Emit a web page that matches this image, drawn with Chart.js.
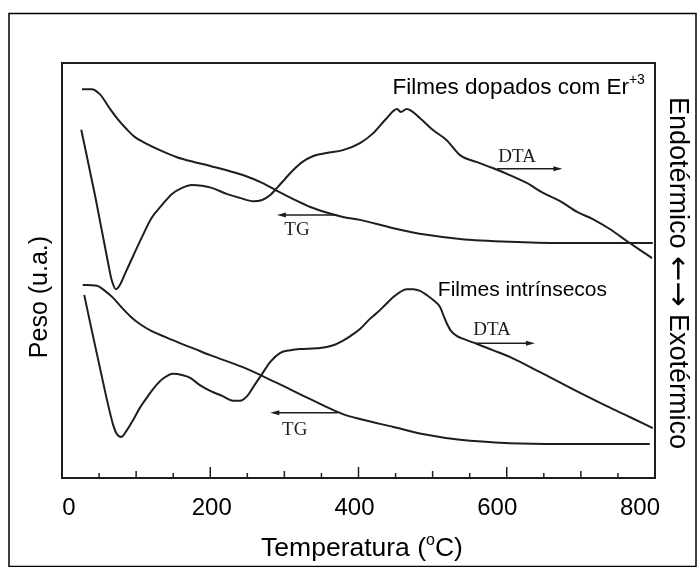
<!DOCTYPE html>
<html>
<head>
<meta charset="utf-8">
<script src="https://cdn.jsdelivr.net/npm/chart.js@4.4.0/dist/chart.umd.min.js"></script>
<style>
  html, body { margin: 0; padding: 0; background: #fff; }
  #wrap { width: 698px; height: 567px; }
</style>
</head>
<body>
<div id="wrap"><canvas id="c" width="698" height="567"></canvas></div>
<script>
// Temperature (°C) and signal (arbitrary units) for each thermal curve
const tgDopedT = [27,40,51,65,76,88,98,109,132,155,179,200,244,270,290,312,335,358,379,402,447,492,537,604,672,739,797];
const tgDopedV = [93.7,93.7,92.5,88.9,86.3,83.9,82.2,81.0,79.0,77.3,76.1,75.2,73.0,71.1,69.2,67.2,65.3,63.9,62.9,62.2,60.2,58.6,57.6,56.9,56.6,56.6,56.6];

const dtaDopedT = [26,45,62,67,73,78,86,96,108,121,135,148,162,175,189,202,223,240,258,270,281,291,302,312,324,339,357,379,402,420,438,452,457,465,483,500,519,537,560,581,604,627,649,672,695,716,739,762,780,796];
const dtaDopedV = [83.9,67.7,52.0,47.7,45.5,46.5,49.6,53.5,58.1,62.7,65.8,68.4,69.9,70.6,70.4,69.9,68.4,67.5,66.7,67.0,68.2,70.1,72.3,74.2,76.1,77.6,78.3,79.0,80.7,83.1,86.7,88.9,88.2,88.9,86.7,83.9,81.4,77.8,76.1,74.7,73.0,71.1,68.7,66.7,64.1,62.4,60.0,57.1,54.9,53.0];

const tgIntrT = [28,47,58,69,80,92,105,121,139,159,179,200,244,290,335,379,402,447,492,537,604,672,739,793];
const tgIntrV = [46.5,46.3,45.1,43.4,41.2,39.0,37.1,35.4,34.0,32.5,31.1,29.6,26.7,22.9,19.0,15.4,14.2,12.3,10.4,9.2,8.4,8.2,8.2,8.2];

const dtaIntrT = [30,40,51,62,69,74,80,86,96,105,115,125,136,150,162,173,186,200,216,231,240,250,259,270,281,294,308,321,348,366,378,389,402,414,425,436,447,456,465,474,483,492,502,510,515,519,525,533,545,560,581,604,645,689,735,766,797];
const dtaIntrV = [44.1,35.7,26.7,17.8,12.8,10.6,9.9,11.1,14.0,16.9,19.5,21.9,23.9,25.1,24.8,24.1,22.4,21.0,19.8,18.6,18.6,19.8,22.2,25.1,28.0,30.1,30.8,31.1,31.3,32.0,33.0,34.2,35.9,38.1,39.8,41.7,43.6,44.8,45.5,45.5,45.1,44.1,42.7,41.2,39.0,37.3,35.4,34.2,33.3,32.3,30.8,29.2,25.5,21.4,17.3,14.7,12.0];

// Temperature axis labels
const tempTicks = [0, 200, 400, 600, 800];

const pts = (t, v) => t.map((x, i) => ({ x, y: v[i] }));
const line = (label, t, v) => ({
  label, data: pts(t, v),
  borderColor: '#1e1e1e', borderWidth: 2, pointRadius: 0,
  cubicInterpolationMode: 'monotone', fill: false
});

const SANS = '"Liberation Sans", Arial, sans-serif';
const SERIF = '"Liberation Serif", "Times New Roman", serif';
const ARROWS = '"DejaVu Sans", sans-serif';

// Run of text pieces (used for superscripts and mixed fonts)
function richText(ctx, parts, x, y, align) {
  let w = 0;
  parts.forEach(p => { ctx.font = p.font; w += ctx.measureText(p.text).width; });
  let cx = align === 'center' ? x - w / 2 : (align === 'right' ? x - w : x);
  const saved = ctx.textAlign;
  ctx.textAlign = 'left';
  parts.forEach(p => {
    ctx.font = p.font;
    ctx.fillText(p.text, cx, y + (p.dy || 0));
    cx += ctx.measureText(p.text).width;
  });
  ctx.textAlign = saved;
}

function arrow(ctx, x1, y, x2) {
  const dir = Math.sign(x2 - x1);
  ctx.beginPath(); ctx.moveTo(x1, y); ctx.lineTo(x2 - dir * 6, y); ctx.stroke();
  ctx.beginPath();
  ctx.moveTo(x2, y); ctx.lineTo(x2 - dir * 9, y - 2.5); ctx.lineTo(x2 - dir * 9, y + 2.5);
  ctx.closePath(); ctx.fill();
}

// Curve labels: arrows pointing to the axis each curve belongs to
const curveNotes = [
  { text: 'DTA', tx: 614, ty: 77.3, from: 587, to: 675, ay: 74.5 },
  { text: 'TG',  tx: 317, ty: 59.8, from: 371, to: 290, ay: 63.4 },
  { text: 'DTA', tx: 580, ty: 35.7, from: 557, to: 638, ay: 32.5 },
  { text: 'TG',  tx: 314, ty: 11.6, from: 372, to: 281, ay: 15.7 }
];

const decorations = {
  id: 'decorations',
  afterDraw(chart) {
    const { ctx, chartArea: a, scales } = chart;
    const sx = scales.x, sy = scales.y;
    ctx.save();
    ctx.fillStyle = '#000';
    ctx.strokeStyle = '#000';

    // outer border
    ctx.lineWidth = 1.5;
    ctx.strokeRect(9, 13.5, 687, 553);

    // plot frame
    ctx.strokeStyle = '#1e1e1e';
    ctx.lineWidth = 2;
    ctx.strokeRect(a.left, a.top, a.right - a.left, a.bottom - a.top);

    // inward tick marks along the temperature axis
    ctx.lineWidth = 1.5;
    for (let t = 50; t < 800; t += 50) {
      const len = t % 200 === 0 ? 11 : (t % 100 === 0 ? 7 : 5);
      const px = sx.getPixelForValue(t);
      ctx.beginPath(); ctx.moveTo(px, a.bottom); ctx.lineTo(px, a.bottom - len); ctx.stroke();
    }

    // curve labels and arrows
    ctx.fillStyle = '#1e1e1e';
    ctx.lineWidth = 1.5;
    ctx.textBaseline = 'middle';
    ctx.textAlign = 'center';
    curveNotes.forEach(n => {
      ctx.font = '19px ' + SERIF;
      ctx.fillText(n.text, sx.getPixelForValue(n.tx), sy.getPixelForValue(n.ty));
      arrow(ctx, sx.getPixelForValue(n.from), sy.getPixelForValue(n.ay), sx.getPixelForValue(n.to));
    });

    // panel titles
    ctx.fillStyle = '#000';
    ctx.textBaseline = 'alphabetic';
    richText(ctx, [
      { text: 'Filmes dopados com Er', font: '22.5px ' + SANS },
      { text: '+3', font: '14px ' + SANS, dy: -10 }
    ], sx.getPixelForValue(446), sy.getPixelForValue(92.5), 'left');
    richText(ctx, [
      { text: 'Filmes intrínsecos', font: '21px ' + SANS }
    ], sx.getPixelForValue(507), sy.getPixelForValue(43.8), 'left');

    // axis titles
    richText(ctx, [
      { text: 'Temperatura (', font: '26.5px ' + SANS },
      { text: 'o', font: '16px ' + SANS, dy: -11 },
      { text: 'C)', font: '26.5px ' + SANS }
    ], 362, 556, 'center');

    ctx.save();
    ctx.translate(40, 297);
    ctx.rotate(-Math.PI / 2);
    ctx.textAlign = 'center';
    ctx.textBaseline = 'middle';
    ctx.font = '25px ' + SANS;
    ctx.fillText('Peso (u.a.)', 0, 0);
    ctx.restore();

    ctx.save();
    ctx.translate(670, 273);
    ctx.rotate(Math.PI / 2);
    ctx.textBaseline = 'alphabetic';
    richText(ctx, [
      { text: 'Endotérmico ', font: '27px ' + SANS },
      { text: '\u2190\u2192', font: '30px ' + ARROWS, dy: 1 },
      { text: ' Exotérmico', font: '27px ' + SANS }
    ], 0, 0, 'center');
    ctx.restore();

    ctx.restore();
  }
};

new Chart(document.getElementById('c'), {
  type: 'line',
  data: {
    datasets: [
      line('TG dopado', tgDopedT, tgDopedV),
      line('DTA dopado', dtaDopedT, dtaDopedV),
      line('TG intrínseco', tgIntrT, tgIntrV),
      line('DTA intrínseco', dtaIntrT, dtaIntrV)
    ]
  },
  options: {
    responsive: false,
    animation: false,
    devicePixelRatio: 1,
    layout: { padding: { left: 62, right: 43, top: 63, bottom: 0 } },
    plugins: { legend: { display: false }, tooltip: { enabled: false } },
    scales: {
      x: { type: 'linear', min: 0, max: 800, display: false },
      y: { type: 'linear', min: 0, max: 100, display: false },
      xTicks: {
        type: 'linear', axis: 'x', position: 'bottom',
        min: -9.8, max: 821,
        grid: { display: false, drawTicks: false },
        border: { display: false },
        afterBuildTicks: s => { s.ticks = tempTicks.map(v => ({ value: v })); },
        afterFit: s => { s.height = 89; },
        ticks: {
          autoSkip: false, maxRotation: 0, padding: 16,
          color: '#000', font: { family: SANS, size: 24 }
        }
      }
    }
  },
  plugins: [decorations]
});
</script>
</body>
</html>
